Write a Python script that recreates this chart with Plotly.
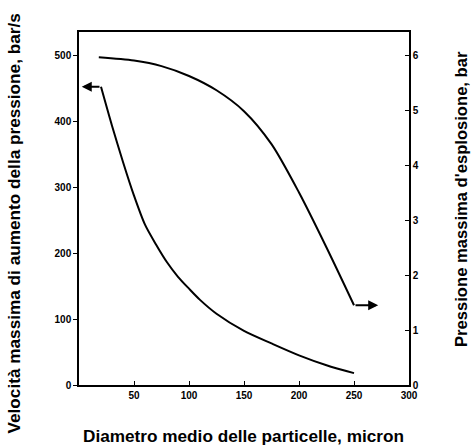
import plotly.graph_objects as go

# Data
diam_rate = [20, 30, 40, 50, 60, 70, 80, 90, 100, 110, 125, 150, 175, 200, 225, 250]
rate = [452, 393, 338, 287, 243, 213, 186, 164, 146, 129, 108, 82, 63, 45, 30, 18]

diam_press = [18, 50, 75, 100, 125, 150, 175, 200, 225, 250]
press = [5.96, 5.90, 5.80, 5.62, 5.36, 4.98, 4.38, 3.50, 2.50, 1.45]

x_ticks = [50, 100, 150, 200, 250, 300]
y1_ticks = [0, 100, 200, 300, 400, 500]
y2_ticks = [0, 1, 2, 3, 4, 5, 6]

title_x = "Diametro medio delle particelle, micron"
title_y1 = "Velocità massima di aumento della pressione, bar/s"
title_y2 = "Pressione massima d'esplosione, bar"

FONT = "Liberation Sans, Arial, sans-serif"

fig = go.Figure()
fig.add_trace(go.Scatter(x=diam_rate, y=rate, mode="lines",
                         line=dict(color="black", width=2, shape="spline", smoothing=0.8),
                         yaxis="y", showlegend=False, hoverinfo="skip"))
fig.add_trace(go.Scatter(x=diam_press, y=press, mode="lines",
                         line=dict(color="black", width=2, shape="spline", smoothing=0.8),
                         yaxis="y2", showlegend=False, hoverinfo="skip"))

tickfont = dict(family=FONT, size=10, color="black", weight="bold")

fig.update_layout(
    width=471, height=448,
    margin=dict(l=79, r=62, t=32, b=63),
    paper_bgcolor="white", plot_bgcolor="white",
    xaxis=dict(range=[0, 300], tickvals=x_ticks, ticks="inside", ticklen=4, tickwidth=1,
               showline=True, linecolor="black", linewidth=1.5, mirror=True, showgrid=False,
               zeroline=False, tickfont=tickfont, tickcolor="black"),
    yaxis=dict(range=[0, 535], tickvals=y1_ticks, ticks="outside", ticklen=4, tickwidth=1,
               showline=True, linecolor="black", linewidth=1.5, showgrid=False, zeroline=False,
               tickfont=tickfont, tickcolor="black"),
    yaxis2=dict(range=[0, 535 / 500 * 6], tickvals=y2_ticks, overlaying="y", side="right",
                ticks="inside", ticklen=4, tickwidth=1, showline=True, linecolor="black",
                linewidth=1.5, showgrid=False, zeroline=False, tickfont=tickfont, tickcolor="black"),
)

def tfont(size):
    return dict(family=FONT, size=size, color="black", weight="bold")

fig.add_annotation(text=title_x, xref="paper", yref="paper", x=0.4985, y=-0.1445,
                   showarrow=False, font=tfont(17.2), xanchor="center", yanchor="middle")
fig.add_annotation(text=title_y1, xref="paper", yref="paper", x=-0.197, y=0.4575, textangle=-90,
                   showarrow=False, font=tfont(17.2), xanchor="center", yanchor="middle")
fig.add_annotation(text=title_y2, xref="paper", yref="paper", x=1.1606, y=0.527, textangle=-90,
                   showarrow=False, font=tfont(16.6), xanchor="center", yanchor="middle")

# Arrows indicating which axis each curve belongs to
fig.add_annotation(x=2.5, y=rate[0], ax=diam_rate[0], ay=rate[0], xref="x", yref="y",
                   axref="x", ayref="y", text="", showarrow=True, arrowhead=2, arrowsize=1,
                   arrowwidth=2, arrowcolor="black")
fig.add_annotation(x=272, y=press[-1], ax=diam_press[-1], ay=press[-1], xref="x", yref="y2",
                   axref="x", ayref="y2", text="", showarrow=True, arrowhead=2, arrowsize=1,
                   arrowwidth=2, arrowcolor="black")

fig.write_html("out.html")
